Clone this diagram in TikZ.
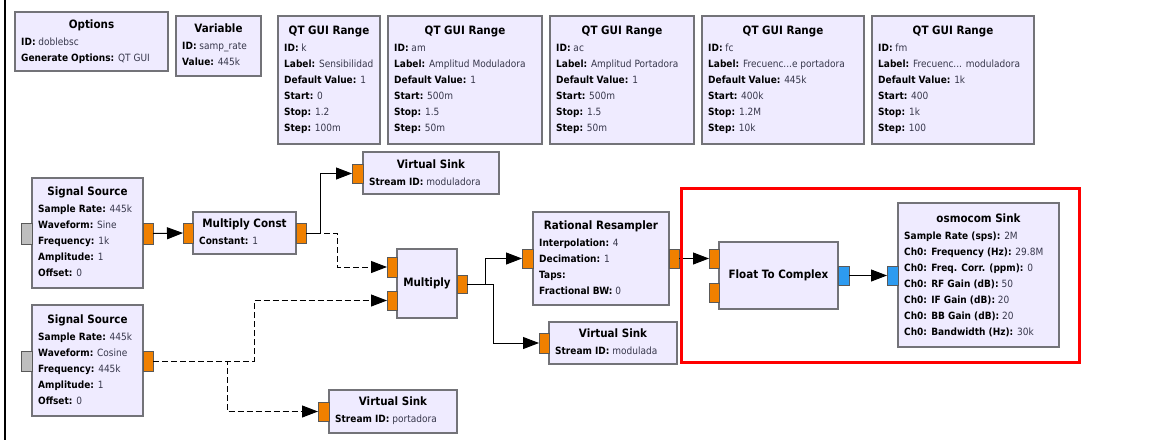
\documentclass[tikz,border=0pt]{standalone}
\usepackage{fontspec}
\setmainfont{DejaVu Sans}[FakeStretch=0.9]
\usetikzlibrary{arrows.meta}
\definecolor{boxfill}{RGB}{239,235,255}
\definecolor{boxline}{RGB}{115,115,120}
\definecolor{portorange}{RGB}{240,128,0}
\definecolor{portblue}{RGB}{45,155,240}
\definecolor{portgrey}{RGB}{190,190,190}
\definecolor{valcol}{RGB}{55,55,75}
\definecolor{hlred}{RGB}{255,0,0}
\newcommand\kv[2]{\textbf{#1:} {\color{valcol}#2}}
\newcommand\blk[8]{%
  \node[blockbox, minimum width={#4-#2}, minimum height={#5-#3}] (#1) at ({(#2+#4)/2},{(#3+#5)/2}) {};
  \node[titletext] (#1-t) at ({(#2+#4)/2},{#3+#7}) {#6};
  \foreach \l [count=\i] in {#8} {\node[linetext] (#1-\i) at ({#2+6},{#3+#7+17+(\i-1)*16}) {\l};}
}
\newcommand\sblk[6]{%
  \node[blockbox, minimum width={#4-#2}, minimum height={#5-#3}] (#1) at ({(#2+#4)/2},{(#3+#5)/2}) {};
  \node[titletext] (#1-t) at ({(#2+#4)/2},{(#3+#5)/2}) {#6};
}
\newcommand\port[6]{%
  \node[portbox, fill=#6, minimum width={#4-#2}, minimum height={#5-#3}] (#1) at ({(#2+#4)/2},{(#3+#5)/2}) {};
}
\begin{document}
\begin{tikzpicture}[x=1pt,y=-1pt,
  blockbox/.style={draw=boxline, fill=boxfill, line width=1.3pt, inner sep=0pt, outer sep=0pt},
  portbox/.style={draw=black!65, line width=0.8pt, inner sep=0pt, outer sep=0pt},
  titletext/.style={inner sep=0pt, anchor=mid, font=\fontsize{11.5}{14}\selectfont\bfseries},
  linetext/.style={inner sep=0pt, anchor=mid west, font=\fontsize{10}{12}\selectfont},
  conn/.style={draw=black, line width=1pt, -{Triangle[length=16pt,width=12pt]}},
  dconn/.style={conn, dash pattern=on 6pt off 3pt},
]
\useasboundingbox (0,0) rectangle (1174,440);
\fill[white] (0,0) rectangle (1174,440);
\draw[line width=1.5pt] (5,0) -- (5,440);

% top row
\blk{opt}{15}{12}{168}{71}{Options}{14}{{\kv{ID}{doblebsc}},{\kv{Generate Options}{QT GUI}}}
\blk{var}{176}{16}{261}{76}{Variable}{14}{{\kv{ID}{samp\_rate}},{\kv{Value}{445k}}}
\blk{qk}{278}{16}{380}{144}{QT GUI Range}{16}{{\kv{ID}{k}},{\kv{Label}{Sensibilidad}},{\kv{Default Value}{1}},{\kv{Start}{0}},{\kv{Stop}{1.2}},{\kv{Step}{100m}}}
\blk{qam}{388}{16}{542}{144}{QT GUI Range}{16}{{\kv{ID}{am}},{\kv{Label}{Amplitud Moduladora}},{\kv{Default Value}{1}},{\kv{Start}{500m}},{\kv{Stop}{1.5}},{\kv{Step}{50m}}}
\blk{qac}{550}{16}{694}{144}{QT GUI Range}{16}{{\kv{ID}{ac}},{\kv{Label}{Amplitud Portadora}},{\kv{Default Value}{1}},{\kv{Start}{500m}},{\kv{Stop}{1.5}},{\kv{Step}{50m}}}
\blk{qfc}{702}{16}{864}{144}{QT GUI Range}{16}{{\kv{ID}{fc}},{\kv{Label}{Frecuenc...e portadora}},{\kv{Default Value}{445k}},{\kv{Start}{400k}},{\kv{Stop}{1.2M}},{\kv{Step}{10k}}}
\blk{qfm}{872}{16}{1034}{144}{QT GUI Range}{16}{{\kv{ID}{fm}},{\kv{Label}{Frecuenc... moduladora}},{\kv{Default Value}{1k}},{\kv{Start}{400}},{\kv{Stop}{1k}},{\kv{Step}{100}}}

% flow blocks
\blk{ss1}{32}{178}{143}{288}{Signal Source}{15}{{\kv{Sample Rate}{445k}},{\kv{Waveform}{Sine}},{\kv{Frequency}{1k}},{\kv{Amplitude}{1}},{\kv{Offset}{0}}}
\blk{ss2}{32}{305}{143}{416}{Signal Source}{16}{{\kv{Sample Rate}{445k}},{\kv{Waveform}{Cosine}},{\kv{Frequency}{445k}},{\kv{Amplitude}{1}},{\kv{Offset}{0}}}
\blk{mc}{193}{212}{296}{254}{Multiply Const}{13}{{\kv{Constant}{1}}}
\blk{vs1}{363}{152}{499}{194}{Virtual Sink}{14}{{\kv{Stream ID}{moduladora}}}
\sblk{mul}{397}{249}{457}{318}{Multiply}
\blk{rr}{533}{212}{669}{305}{Rational Resampler}{15}{{\kv{Interpolation}{4}},{\kv{Decimation}{1}},{\kv{Taps}{}},{\kv{Fractional BW}{0}}}
\blk{vs2}{549}{322}{677}{364}{Virtual Sink}{13}{{\kv{Stream ID}{modulada}}}
\blk{vs3}{329}{390}{457}{433}{Virtual Sink}{13}{{\kv{Stream ID}{portadora}}}
\sblk{ftc}{719}{242}{838}{309}{Float To Complex}
\blk{osm}{898}{203}{1059}{347}{osmocom Sink}{17}{{\kv{Sample Rate (sps)}{2M}},{\kv{Ch0: Frequency (Hz)}{29.8M}},{\kv{Ch0: Freq. Corr. (ppm)}{0}},{\kv{Ch0: RF Gain (dB)}{50}},{\kv{Ch0: IF Gain (dB)}{20}},{\kv{Ch0: BB Gain (dB)}{20}},{\kv{Ch0: Bandwidth (Hz)}{30k}}}

% ports
\port{ss1g}{21}{223}{32}{244}{portgrey}
\port{ss1o}{143}{223}{153}{244}{portorange}
\port{ss2g}{21}{351}{32}{371}{portgrey}
\port{ss2o}{143}{351}{153}{371}{portorange}
\port{mci}{183}{223}{193}{243}{portorange}
\port{mco}{296}{223}{306}{243}{portorange}
\port{vs1i}{352}{164}{363}{183}{portorange}
\port{muli0}{387}{257}{397}{277}{portorange}
\port{muli1}{387}{291}{397}{310}{portorange}
\port{mulo}{457}{275}{467}{293}{portorange}
\port{rri}{522}{249}{533}{268}{portorange}
\port{rro}{669}{249}{679}{268}{portorange}
\port{vs2i}{539}{333}{549}{353}{portorange}
\port{vs3i}{318}{402}{329}{421}{portorange}
\port{ftci0}{709}{249}{719}{268}{portorange}
\port{ftci1}{709}{283}{719}{302}{portorange}
\port{ftco}{838}{266}{849}{285}{portblue}
\port{osmi}{887}{266}{898}{285}{portblue}

% connections
\draw[conn] (ss1o.east) -- (mci.west);
\draw[conn] (mco.east) -- ++(14,0) |- (vs1i.west);
\draw[dconn] (mco.east) -- ++(31,0) |- (muli0.west);
\draw[dconn] (ss2o.east) -- ++(101,0) |- (muli1.west);
\draw[dconn] (ss2o.east) -- ++(74,0) |- (vs3i.west);
\draw[conn] (mulo.east) -- ++(18,0) |- (rri.west);
\draw[conn] (mulo.east) -- ++(26,0) |- (vs2i.west);
\draw[conn] (rro.east) -- (ftci0.west);
\draw[conn] (ftco.east) -- (osmi.west);

% highlight
\draw[hlred, line width=3pt] (681,188) rectangle (1079,362);
\end{tikzpicture}
\end{document}
